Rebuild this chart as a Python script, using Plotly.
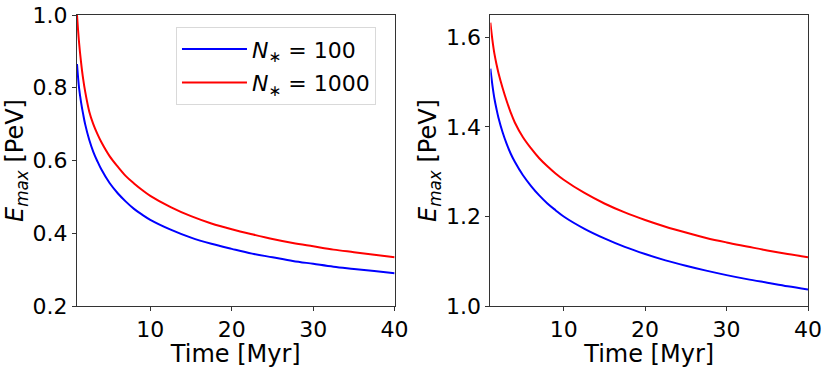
import plotly.graph_objects as go
from plotly.subplots import make_subplots

# values
time_myr = [1, 1.25, 1.5, 1.75, 2, 2.5, 3, 3.5, 4, 5, 6, 7, 8, 9, 10,
            12.5, 15, 17.5, 20, 22.5, 25, 27.5, 30, 32.5, 35, 37.5, 40]

# left panel
left_n100 = [0.865, 0.800, 0.760, 0.728, 0.700, 0.657, 0.624, 0.598, 0.575, 0.538,
             0.510, 0.487, 0.467, 0.451, 0.437, 0.410, 0.388, 0.371, 0.357, 0.344,
             0.334, 0.324, 0.316, 0.308, 0.302, 0.296, 0.290]
left_n1000 = [1.000, 0.925, 0.870, 0.825, 0.790, 0.735, 0.700, 0.673, 0.650, 0.612,
              0.583, 0.557, 0.537, 0.519, 0.503, 0.472, 0.447, 0.427, 0.411, 0.397,
              0.384, 0.373, 0.364, 0.355, 0.348, 0.341, 0.334]

# right panel
right_n100 = [1.530, 1.493, 1.463, 1.440, 1.420, 1.388, 1.362, 1.340, 1.322, 1.292,
              1.268, 1.247, 1.229, 1.214, 1.200, 1.173, 1.151, 1.132, 1.116, 1.102,
              1.090, 1.079, 1.069, 1.060, 1.052, 1.044, 1.037]
right_n1000 = [1.633, 1.594, 1.563, 1.540, 1.520, 1.487, 1.458, 1.432, 1.410, 1.377,
               1.352, 1.330, 1.312, 1.296, 1.282, 1.253, 1.229, 1.209, 1.192, 1.177,
               1.164, 1.152, 1.142, 1.133, 1.124, 1.116, 1.109]

x_ticks = [10, 20, 30, 40]
left_yticks = [0.2, 0.4, 0.6, 0.8, 1.0]
right_yticks = [1.0, 1.2, 1.4, 1.6]

FONT = "DejaVu Sans, Arial, sans-serif"
FS = 22        # tick labels / legend
FS_TITLE = 24  # axis titles
BLUE = "#0000ff"
RED = "#ff0000"

fig = make_subplots(rows=1, cols=2, horizontal_spacing=0.131)

line_kw = dict(width=2, shape="spline", smoothing=1.0)
fig.add_trace(go.Scatter(x=time_myr, y=left_n100, mode="lines", name="<i>N</i><sub>∗</sub> = 100",
                         legendgroup="a", line=dict(color=BLUE, **line_kw)), row=1, col=1)
fig.add_trace(go.Scatter(x=time_myr, y=left_n1000, mode="lines", name="<i>N</i><sub>∗</sub> = 1000",
                         legendgroup="b", line=dict(color=RED, **line_kw)), row=1, col=1)
fig.add_trace(go.Scatter(x=time_myr, y=right_n100, mode="lines", showlegend=False,
                         line=dict(color=BLUE, **line_kw)), row=1, col=2)
fig.add_trace(go.Scatter(x=time_myr, y=right_n1000, mode="lines", showlegend=False,
                         line=dict(color=RED, **line_kw)), row=1, col=2)

axis_style = dict(showline=True, linecolor="#333", linewidth=1, mirror=True, automargin=False,
                  ticks="outside", ticklen=4, tickcolor="#333", showgrid=False, zeroline=False,
                  tickfont=dict(family=FONT, size=FS, color="black"))

ytitle = "<i>E</i><sub><i>max</i></sub> [PeV]"
title_font = dict(family=FONT, size=FS_TITLE, color="black")

for c in (1, 2):
    fig.update_xaxes(axis_style, range=[1, 40], tickvals=x_ticks,
                     title=dict(text="Time [Myr]", font=title_font, standoff=0),
                     row=1, col=c)

fig.update_yaxes(axis_style, range=[0.2, 1.0], tickvals=left_yticks, tickformat=".1f",
                 title=dict(text=ytitle, font=title_font, standoff=2),
                 row=1, col=1)
fig.update_yaxes(axis_style, range=[1.0, 1.65], tickvals=right_yticks, tickformat=".1f",
                 title=dict(text=ytitle, font=title_font, standoff=2),
                 row=1, col=2)

fig.update_layout(
    width=830, height=368,
    margin=dict(l=77, r=22, t=15, b=62),
    plot_bgcolor="white", paper_bgcolor="white",
    font=dict(family=FONT, size=FS, color="black"),
    legend=dict(x=0.409, y=0.958, xanchor="right", yanchor="top",
                bgcolor="rgba(255,255,255,0.8)", bordercolor="#d9d9d9", borderwidth=1,
                font=dict(family=FONT, size=FS), traceorder="grouped", tracegroupgap=2,
                itemwidth=65),
)

# the page body has a default 8px margin; drop it so the figure fills the window
fig.write_html("out.html", config={"displayModeBar": False},
               post_script="document.body.style.margin='0';")
